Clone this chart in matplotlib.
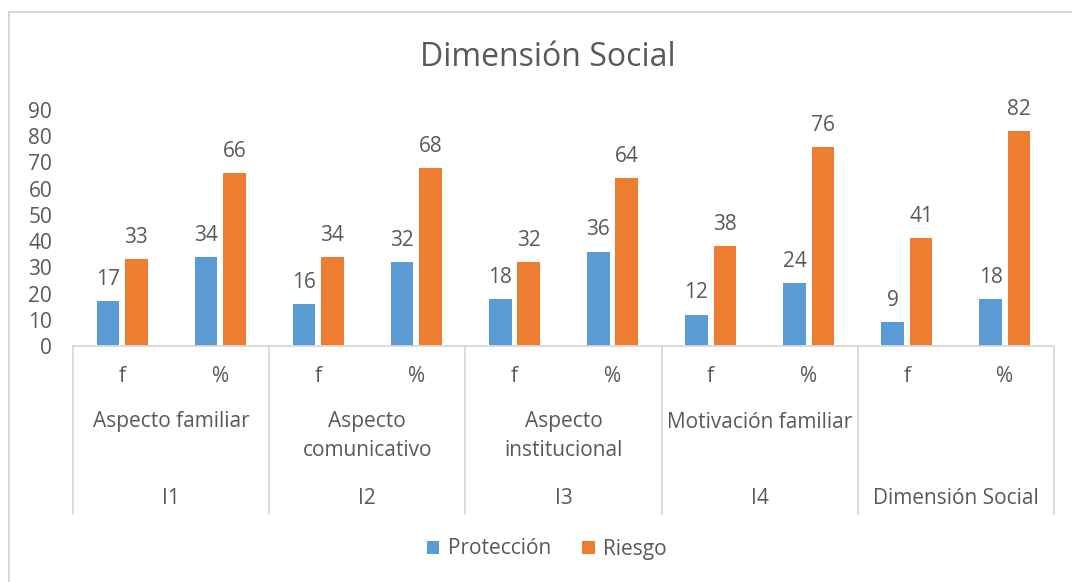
import matplotlib.pyplot as plt
from matplotlib.patches import Rectangle
from matplotlib.transforms import blended_transform_factory

# data
groups = ['I1', 'I2', 'I3', 'I4', 'Dimensión Social']
aspects = ['Aspecto familiar', 'Aspecto\ncomunicativo', 'Aspecto\ninstitucional',
           'Motivación familiar', '']
subcats = ['f', '%']
proteccion = [17, 34, 16, 32, 18, 36, 12, 24, 9, 18]
riesgo = [33, 66, 34, 68, 32, 64, 38, 76, 41, 82]

blue = '#5B9BD5'
orange = '#ED7D31'
txt = '#595959'
line = '#D9D9D9'

plt.rcParams['font.family'] = ['Open Sans', 'DejaVu Sans']
fs = 15

W, H = 1072, 582
fig = plt.figure(figsize=(W / 100, H / 100), dpi=100)

def fy(py):
    return 1 - py / H

x0, x1 = 73, 1054
ax = fig.add_axes([x0 / W, fy(346), (x1 - x0) / W, (346 - 110) / H])

n = len(proteccion)
xs = list(range(n))
bw = 0.23
off = 0.145
ax.bar([x - off for x in xs], proteccion, bw, color=blue, label='Protección')
ax.bar([x + off for x in xs], riesgo, bw, color=orange, label='Riesgo')

for x, v in zip(xs, proteccion):
    ax.annotate(str(v), (x - off, v), xytext=(0, 8), textcoords='offset points',
                ha='center', va='bottom', fontsize=fs, color=txt)
for x, v in zip(xs, riesgo):
    ax.annotate(str(v), (x + off, v), xytext=(0, 8), textcoords='offset points',
                ha='center', va='bottom', fontsize=fs, color=txt)

ax.set_xlim(-0.5, n - 0.5)
ax.set_ylim(0, 90)
ax.set_yticks(range(0, 91, 10))
ax.tick_params(axis='y', length=0, labelsize=fs, labelcolor=txt, pad=15)
ax.set_xticks([])
for s in ['top', 'right', 'left']:
    ax.spines[s].set_visible(False)
ax.spines['bottom'].set_color(line)
ax.spines['bottom'].set_linewidth(1.3)

# multi-level category axis
tr = blended_transform_factory(ax.transData, fig.transFigure)
for k in range(len(groups) + 1):
    xb = k * 2 - 0.5
    ax.plot([xb, xb], [fy(346), fy(514)], transform=tr, color=line, lw=1.3, clip_on=False)
for x in xs:
    ax.text(x, fy(377), subcats[x % 2], transform=tr, ha='center', va='center',
            fontsize=fs, color=txt)
for k, (g, a) in enumerate(zip(groups, aspects)):
    xc = k * 2 + 0.5
    for j, part in enumerate(a.split('\n')):
        if part:
            ax.text(xc, fy(422 + 28 * j), part, transform=tr, ha='center', va='center',
                    fontsize=fs, color=txt)
    ax.text(xc, fy(498), g, transform=tr, ha='center', va='center',
            fontsize=fs, color=txt)

fig.text(0.511, fy(57), 'Dimensión Social', ha='center', va='center',
         fontsize=23, color=txt)

fig.legend(loc='center', bbox_to_anchor=(0.51, fy(549)), ncol=2, frameon=False,
           fontsize=fs, labelcolor=txt, handlelength=0.6, handleheight=0.6,
           handletextpad=0.4, columnspacing=1.5)

fig.patches.append(Rectangle((9 / W, -0.1), 1.2, fy(12) + 0.1, transform=fig.transFigure,
                             fill=False, edgecolor=line, lw=1.5))

fig.savefig('out.png', dpi=100)
